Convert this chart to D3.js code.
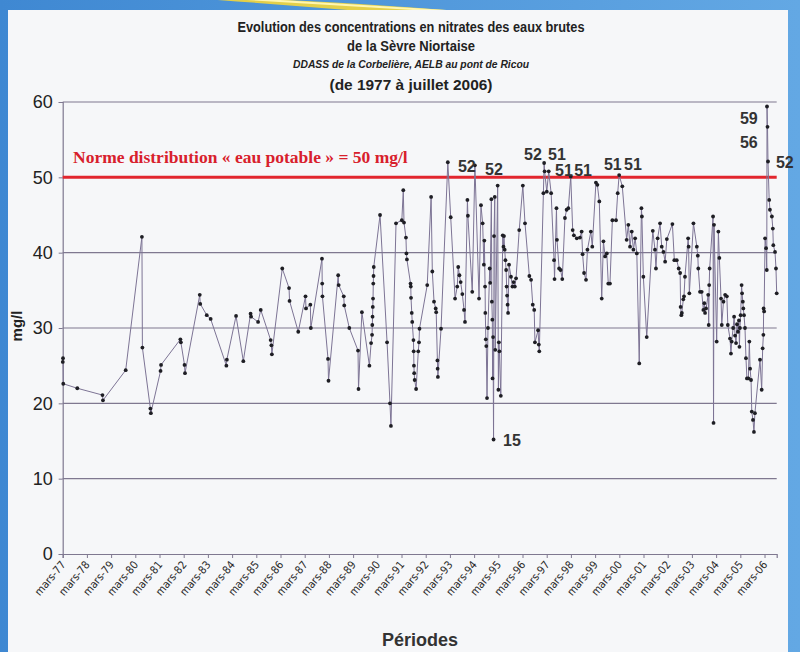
<!DOCTYPE html>
<html><head><meta charset="utf-8">
<script src="https://cdn.jsdelivr.net/npm/d3@7"></script>
<style>html,body{margin:0;padding:0;background:#5c9fdc;}svg{display:block;}</style>
</head><body>
<script>
// ---- DATA (decimal years, mg/l) ----
const dates = [1977.17,1977.18,1977.19,1977.77,1978.81,1978.83,1979.77,1980.44,1980.46,1980.79,1980.81,1981.21,1981.23,1982.03,1982.05,1982.20,1982.22,1982.83,1982.85,1983.12,1983.28,1983.93,1983.95,1984.33,1984.63,1984.93,1984.95,1985.24,1985.35,1985.76,1985.79,1985.81,1986.24,1986.52,1986.54,1986.90,1987.20,1987.22,1987.40,1987.42,1987.88,1987.89,1987.90,1988.13,1988.15,1988.55,1988.57,1988.78,1988.80,1989.01,1989.37,1989.39,1989.53,1989.84,1989.91,1989.95,1989.96,1989.97,1989.98,1989.99,1990.00,1990.01,1990.02,1990.28,1990.57,1990.69,1990.73,1990.94,1991.18,1991.24,1991.27,1991.35,1991.37,1991.39,1991.54,1991.55,1991.56,1991.59,1991.61,1991.66,1991.67,1991.68,1991.69,1991.71,1991.77,1991.86,1991.89,1991.91,1992.23,1992.39,1992.44,1992.51,1992.58,1992.60,1992.65,1992.66,1992.67,1992.80,1993.08,1993.20,1993.38,1993.47,1993.51,1993.56,1993.61,1993.68,1993.75,1993.79,1993.89,1993.91,1994.09,1994.20,1994.37,1994.45,1994.52,1994.57,1994.59,1994.62,1994.63,1994.65,1994.67,1994.70,1994.74,1994.81,1994.83,1994.88,1994.90,1994.92,1994.93,1994.95,1994.97,1994.99,1995.02,1995.04,1995.14,1995.17,1995.19,1995.21,1995.27,1995.35,1995.38,1995.40,1995.43,1995.46,1995.49,1995.51,1995.53,1995.55,1995.57,1995.61,1995.69,1995.75,1995.80,1995.85,1995.90,1996.03,1996.18,1996.27,1996.45,1996.52,1996.59,1996.65,1996.68,1996.81,1996.84,1996.86,1997.03,1997.06,1997.08,1997.17,1997.25,1997.35,1997.47,1997.49,1997.57,1997.59,1997.68,1997.74,1997.81,1997.92,1997.99,1998.06,1998.16,1998.24,1998.29,1998.41,1998.54,1998.61,1998.65,1998.71,1998.79,1998.85,1998.99,1999.05,1999.20,1999.26,1999.34,1999.44,1999.51,1999.58,1999.65,1999.71,1999.78,1999.88,2000.03,2000.10,2000.16,2000.29,2000.47,2000.54,2000.61,2000.68,2000.75,2000.82,2000.89,2000.99,2001.08,2001.10,2001.16,2001.30,2001.55,2001.64,2001.68,2001.75,2001.85,2001.92,2001.99,2002.06,2002.13,2002.36,2002.44,2002.54,2002.62,2002.68,2002.70,2002.73,2002.75,2002.81,2002.84,2002.88,2003.01,2003.03,2003.06,2003.23,2003.37,2003.41,2003.43,2003.50,2003.57,2003.64,2003.68,2003.71,2003.75,2003.84,2003.86,2003.88,2003.90,2004.04,2004.06,2004.08,2004.19,2004.26,2004.30,2004.37,2004.40,2004.47,2004.54,2004.61,2004.65,2004.74,2004.78,2004.81,2004.87,2004.91,2004.95,2004.99,2005.03,2005.07,2005.11,2005.13,2005.15,2005.18,2005.22,2005.24,2005.27,2005.29,2005.32,2005.36,2005.40,2005.44,2005.50,2005.54,2005.57,2005.61,2005.64,2005.69,2005.73,2005.77,2005.98,2006.05,2006.09,2006.12,2006.13,2006.15,2006.19,2006.23,2006.26,2006.27,2006.29,2006.31,2006.36,2006.39,2006.47,2006.51,2006.53,2006.60,2006.64,2006.67];
const values = [25.5,26.0,22.6,22.0,21.1,20.4,24.4,42.1,27.4,19.3,18.7,24.3,25.1,28.5,28.1,25.1,24.0,34.4,33.2,31.7,31.2,25.0,25.8,31.6,25.6,31.9,31.5,30.8,32.4,28.4,27.7,26.5,37.9,35.3,33.6,29.5,34.2,32.6,33.1,30.0,39.2,35.9,34.2,25.9,23.0,37.0,35.7,34.2,33.0,30.0,27.0,21.9,32.1,25.0,28.0,29.1,30.4,31.5,32.8,33.9,35.9,36.9,38.1,45.0,28.1,20.0,17.0,43.9,44.3,48.3,44.0,42.0,39.9,39.1,35.9,35.5,34.0,32.0,30.8,28.4,26.9,25.0,24.0,23.1,21.9,26.9,28.1,29.9,35.7,47.4,37.5,33.5,32.6,32.1,25.7,24.6,23.5,29.9,52.0,44.7,33.9,35.5,38.1,37.0,36.1,34.5,32.4,30.8,47.0,44.9,34.8,51.6,33.9,46.3,43.9,38.4,41.6,35.5,32.0,28.5,27.6,20.7,30.0,37.9,36.0,47.1,33.5,31.1,23.3,28.8,15.2,42.2,47.4,27.1,48.9,21.8,28.1,26.9,21.0,42.3,40.8,42.2,40.4,39.0,37.7,35.5,34.3,33.1,32.0,38.4,36.8,35.5,36.1,35.5,36.6,43.0,48.9,43.9,36.9,36.4,33.1,32.4,28.1,29.7,27.8,26.9,47.9,51.9,50.8,48.1,50.8,47.9,39.0,36.5,45.9,41.7,37.9,37.7,36.5,44.6,45.7,45.9,50.1,43.0,42.3,41.9,42.0,42.8,39.8,37.3,36.4,40.4,42.8,40.8,49.3,49.0,46.8,33.9,41.5,39.5,39.9,35.9,35.9,44.3,44.3,47.9,50.3,48.8,41.7,43.7,40.8,42.8,40.4,41.9,39.9,25.3,45.9,44.8,36.8,28.8,42.9,40.4,37.9,41.9,43.9,40.8,40.1,38.8,41.8,43.8,39.0,39.0,37.9,37.3,32.8,31.7,32.0,33.8,34.2,36.8,41.9,40.8,34.6,43.9,40.8,39.6,37.9,34.8,34.8,32.4,33.3,32.0,32.6,34.4,30.4,35.7,37.9,44.8,17.4,43.7,28.2,42.8,39.3,33.9,30.4,33.5,34.4,34.2,30.4,28.6,26.6,28.2,30.0,31.5,29.0,28.0,30.5,29.5,31.0,27.5,30.0,31.7,35.7,34.6,33.5,32.6,31.7,30.0,26.0,23.3,23.3,28.2,24.6,23.1,18.9,17.8,16.2,18.7,25.8,21.8,27.3,29.1,32.6,32.2,41.9,40.6,37.7,59.4,56.7,52.1,47.0,45.7,44.8,43.2,41.0,40.1,37.9,34.6];

const tickYears = [1977,1978,1979,1980,1981,1982,1983,1984,1985,1986,1987,1988,1989,1990,1991,1992,1993,1994,1995,1996,1997,1998,1999,2000,2001,2002,2003,2004,2005,2006];
const tickLabels = ["mars-77","mars-78","mars-79","mars-80","mars-81","mars-82","mars-83","mars-84","mars-85","mars-86","mars-87","mars-88","mars-89","mars-90","mars-91","mars-92","mars-93","mars-94","mars-95","mars-96","mars-97","mars-98","mars-99","mars-00","mars-01","mars-02","mars-03","mars-04","mars-05","mars-06"];
const yTicks = [0,10,20,30,40,50,60];
const normValue = 50;
const normLabel = "Norme distribution « eau potable » = 50 mg/l";

const annTexts  = ["52","52","52","51","51","51","51","51","59","56","52","15"];
const annDates  = [1993.50,1994.62,1996.23,1997.22,1997.51,1998.30,1999.53,2000.36,2005.15,2005.15,2006.64,1995.36];
const annValues = [50.7,50.3,52.3,52.3,50.2,50.2,51.0,51.0,57.1,53.9,51.2,14.3];

const titleLines = ["Evolution des concentrations en nitrates des eaux brutes","de la Sèvre Niortaise"];
const subTitle = "DDASS de la Corbelière, AELB au pont de Ricou";
const periodLine = "(de 1977 à juillet 2006)";

// ---- DRAW ----
const W = 800, H = 652;
const svg = d3.select("body").append("svg").attr("width", W).attr("height", H);
const defs = svg.append("defs");
const bg = defs.append("linearGradient").attr("id","bg").attr("x1","0").attr("x2","1").attr("y1","0").attr("y2","0");
bg.append("stop").attr("offset","0").attr("stop-color","#3f88d2");
bg.append("stop").attr("offset","1").attr("stop-color","#63a8e4");
svg.append("rect").attr("width",W).attr("height",H).attr("fill","url(#bg)");
svg.append("path").attr("d","M190,-2 Q330,8 470,20 L495,14 Q350,2 240,-2 Z").attr("fill","#f4d63a").attr("opacity",0.9);
svg.append("path").attr("d","M230,-2 Q360,6 480,13").attr("fill","none").attr("stroke","#fff6b0").attr("stroke-width",2);
svg.append("rect").attr("x",8).attr("y",10).attr("width",780).attr("height",H-10).attr("fill","#f6f7f9");

const x = d3.scaleLinear().domain([1977.1667, 2006.67]).range([62.7, 776.7]);
const y = d3.scaleLinear().domain([0, 60]).range([554, 102]);

// titles
const titleFont = "'Liberation Sans Narrow','DejaVu Sans Condensed',Arial,sans-serif";
function titleText(txt, yy, size, len, italic) {
  svg.append("text").attr("x",411).attr("y",yy).attr("text-anchor","middle").attr("font-family","'Liberation Sans',Arial,sans-serif")
    .attr("font-weight","bold").attr("font-style", italic ? "italic" : "normal").attr("font-size",size)
    .attr("textLength",len).attr("lengthAdjust","spacingAndGlyphs").attr("fill","#222").text(txt);
}
titleText(titleLines[0], 32, 14.5, 347);
titleText(titleLines[1], 51, 14.5, 128);
titleText(subTitle, 68, 10.5, 236, true);
titleText(periodLine, 90, 15, 163);

// grid
const gridVals = yTicks.filter(v => v > 0 && v !== normValue);
svg.append("g").selectAll("line").data(gridVals).join("line")
  .attr("x1", x.range()[0]).attr("x2", x.range()[1])
  .attr("y1", d => y(d)).attr("y2", d => y(d))
  .attr("stroke","#7f7890").attr("stroke-width",1.2);

// y axis
const gy = svg.append("g").attr("transform",`translate(${x.range()[0]},0)`)
  .call(d3.axisLeft(y).tickValues(yTicks).tickSize(4).tickPadding(6).tickFormat(d3.format("d")));
gy.select(".domain").attr("stroke","#7f7890").attr("stroke-width",1.2);
gy.selectAll(".tick line").attr("stroke","#7f7890");
gy.selectAll(".tick text").attr("font-family","'Liberation Sans',Arial,sans-serif").attr("font-size",18).attr("fill","#222");

// x axis
const gx = svg.append("g").attr("transform",`translate(0,${y(0)})`)
  .call(d3.axisBottom(x).tickValues(tickYears.map(t => t + 2/12)).tickSize(4)
    .tickFormat((d,i) => tickLabels[i]));
gx.select(".domain").attr("stroke","#7f7890").attr("stroke-width",1.2);
gx.selectAll(".tick line").attr("stroke","#7f7890");
gx.selectAll(".tick text").attr("font-family",titleFont).attr("font-size",11).attr("fill","#2a2a2a")
  .attr("text-anchor","end").attr("dy",0).attr("y",0)
  .attr("transform","translate(3,11) rotate(-50)");

// norm line
svg.append("line").attr("x1",x.range()[0]).attr("x2",x.range()[1])
  .attr("y1",y(normValue)).attr("y2",y(normValue)).attr("stroke","#e2262e").attr("stroke-width",3);
svg.append("text").attr("x",73).attr("y",163).attr("font-family","'Liberation Serif','Times New Roman',serif")
  .attr("font-weight","bold").attr("font-size",17.5).attr("fill","#d8202c").text(normLabel);

// series line
const pts = dates.map((d,i) => [d, values[i]]);
svg.append("path").datum(pts).attr("fill","none").attr("stroke","#7d7495").attr("stroke-width",1)
  .attr("d", d3.line().x(d => x(d[0])).y(d => y(d[1])));
svg.append("g").selectAll("circle").data(pts).join("circle")
  .attr("cx", d => x(d[0])).attr("cy", d => y(d[1])).attr("r",1.9).attr("fill","#1e1e24");

// annotations
svg.append("g").selectAll("text").data(annTexts).join("text")
  .attr("x",(d,i) => x(annDates[i])).attr("y",(d,i) => y(annValues[i]))
  .attr("font-family","'Liberation Sans',Arial,sans-serif").attr("font-weight","bold")
  .attr("font-size",16).attr("fill","#333").text(d => d);

// axis titles
svg.append("text").attr("transform","translate(22,326) rotate(-90)").attr("text-anchor","middle")
  .attr("font-family","'Liberation Sans',Arial,sans-serif").attr("font-weight","bold").attr("font-size",15)
  .attr("fill","#222").text("mg/l");
svg.append("text").attr("x",420).attr("y",646).attr("text-anchor","middle")
  .attr("font-family","'Liberation Sans',Arial,sans-serif").attr("font-weight","bold").attr("font-size",18)
  .attr("fill","#333").text("Périodes");
</script>
</body></html>
